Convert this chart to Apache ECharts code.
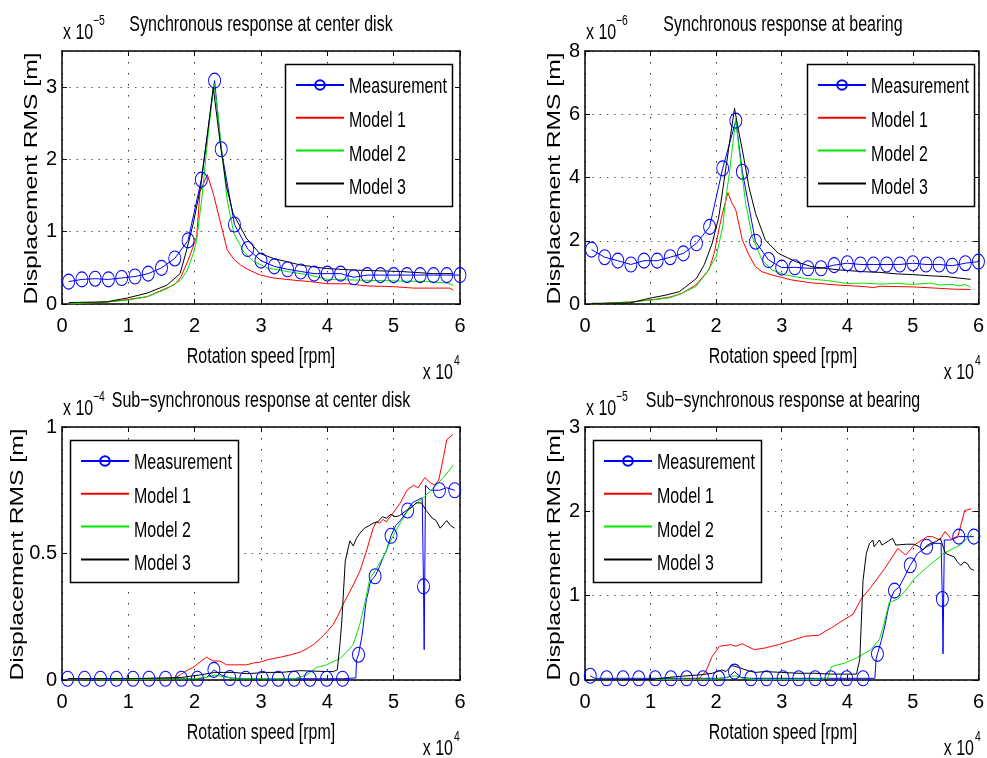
<!DOCTYPE html>
<html><head><meta charset="utf-8">
<script src="https://cdn.jsdelivr.net/npm/echarts@6/dist/echarts.min.js"></script>
<style>html,body{margin:0;padding:0;background:#fff}#c{width:987px;height:758px}</style>
</head><body><div id="c"></div>
<script>
// ---------------- DATA ----------------
const seriesNames = ['Measurement', 'Model 1', 'Model 2', 'Model 3'];
const panelTitles = ['Synchronous response at center disk', 'Synchronous response at bearing',
  'Sub\u2212synchronous response at center disk', 'Sub\u2212synchronous response at bearing'];
const yExponents = ['\u22125', '\u22126', '\u22124', '\u22125'];
const xExponent = '4';
const yMaxes = [3.5, 8, 1, 3];
const yIntervals = [1, 2, 0.5, 1];

// Top-left: synchronous response at center disk (x 1e4 rpm, y 1e-5 m)
const syncMeasX = [0.1,0.3,0.5,0.7,0.9,1.1,1.3,1.5,1.7,1.9,2.1,2.3,2.4,2.6,2.8,3.0,3.2,3.4,3.6,3.8,4.0,4.2,4.4,4.6,4.8,5.0,5.2,5.4,5.6,5.8,6.0];
const syncDiskMeasY = [0.31,0.34,0.35,0.34,0.36,0.38,0.42,0.50,0.63,0.88,1.72,3.09,2.14,1.10,0.76,0.60,0.52,0.48,0.45,0.42,0.42,0.42,0.37,0.40,0.40,0.40,0.40,0.40,0.40,0.40,0.40];
const syncDiskM1 = [[0.1,0],[0.3,0.01],[0.7,0.03],[0.97,0.06],[1.28,0.10],[1.58,0.22],[1.7,0.27],[1.79,0.37],[1.9,0.60],[2.03,0.93],[2.08,1.55],[2.19,1.79],[2.28,1.53],[2.38,1.16],[2.49,0.75],[2.59,0.62],[2.69,0.54],[2.8,0.48],[2.99,0.40],[3.19,0.36],[3.49,0.33],[3.74,0.31],[4.0,0.28],[4.3,0.28],[4.6,0.25],[5.0,0.24],[5.3,0.22],[5.6,0.22],[5.85,0.22],[5.9,0.19]];
const syncDiskM2 = [[0.1,0],[0.3,0.01],[0.7,0.03],[0.97,0.05],[1.28,0.10],[1.58,0.21],[1.79,0.33],[1.89,0.47],[1.98,0.70],[2.03,0.88],[2.11,1.48],[2.18,2.13],[2.26,2.82],[2.29,3.05],[2.34,2.73],[2.39,2.27],[2.49,1.44],[2.59,0.98],[2.74,0.72],[2.89,0.59],[3.09,0.50],[3.39,0.45],[3.74,0.40],[4.0,0.34],[4.5,0.33],[5.0,0.32],[5.5,0.31],[5.8,0.29],[5.9,0.26]];
const syncDiskM3 = [[0.1,0.02],[0.67,0.03],[0.97,0.08],[1.28,0.15],[1.58,0.26],[1.78,0.42],[1.88,0.75],[1.98,1.12],[2.09,1.62],[2.2,2.40],[2.28,3.0],[2.38,2.26],[2.48,1.62],[2.58,1.25],[2.78,0.91],[2.98,0.70],[3.19,0.63],[3.59,0.54],[3.99,0.49],[4.39,0.47],[5.1,0.45],[5.6,0.42],[5.9,0.42]];

// Top-right: synchronous response at bearing (y 1e-6 m)
const syncBrgMeasY = [1.72,1.48,1.37,1.25,1.37,1.37,1.48,1.60,1.92,2.44,4.29,5.80,4.18,1.97,1.39,1.15,1.16,1.13,1.13,1.23,1.29,1.25,1.25,1.25,1.25,1.29,1.25,1.25,1.21,1.29,1.34];
const syncBrgM1 = [[0.1,0],[0.3,0.02],[0.73,0.07],[1.08,0.15],[1.3,0.22],[1.48,0.34],[1.69,0.60],[1.89,1.08],[1.97,1.60],[2.05,2.44],[2.10,2.90],[2.15,3.29],[2.18,3.52],[2.24,3.20],[2.30,2.97],[2.40,2.02],[2.50,1.55],[2.60,1.18],[2.70,1.02],[2.85,0.92],[3.15,0.76],[3.45,0.67],[3.85,0.60],[4.26,0.55],[4.4,0.52],[4.5,0.56],[4.77,0.55],[5.0,0.54],[5.37,0.50],[5.6,0.47],[5.88,0.46]];
const syncBrgM2 = [[0.1,0],[0.3,0.02],[0.73,0.07],[1.08,0.14],[1.3,0.2],[1.48,0.34],[1.69,0.55],[1.85,0.97],[2.0,1.50],[2.10,2.44],[2.15,3.39],[2.20,4.10],[2.25,5.0],[2.30,5.87],[2.35,4.87],[2.45,3.18],[2.55,2.13],[2.70,1.39],[2.85,1.08],[3.05,0.92],[3.35,0.81],[3.7,0.74],[3.9,0.68],[4.0,0.65],[4.25,0.66],[4.5,0.63],[4.77,0.65],[5.0,0.62],[5.27,0.66],[5.4,0.60],[5.6,0.62],[5.7,0.57],[5.8,0.62],[5.88,0.53]];
const syncBrgM3 = [[0.1,0.02],[0.68,0.03],[0.98,0.18],[1.23,0.28],[1.44,0.39],[1.70,0.81],[1.82,1.25],[1.94,1.92],[2.04,2.75],[2.10,3.6],[2.19,4.9],[2.28,6.19],[2.34,5.5],[2.40,4.87],[2.50,3.7],[2.60,2.87],[2.75,2.02],[2.95,1.60],[3.21,1.34],[3.46,1.18],[3.86,1.08],[4.26,1.02],[4.5,1.0],[4.77,0.95],[5.0,0.93],[5.27,0.89],[5.5,0.87],[5.7,0.82],[5.88,0.78]];

// Bottom-left: sub-synchronous response at center disk (y 1e-4 m)
const subDiskMarkX = [0.085,0.34,0.58,0.82,1.07,1.31,1.56,1.80,2.04,2.29,2.53,2.77,3.02,3.26,3.50,3.74,3.99,4.23,4.47,4.72,4.96,5.21,5.45,5.69,5.92];
const subDiskMeas = [[0.085,0.005],[0.34,0.005],[0.58,0.005],[0.82,0.005],[1.07,0.005],[1.31,0.005],[1.56,0.005],[1.80,0.005],[2.04,0.005],[2.18,0.01],[2.29,0.04],[2.40,0.02],[2.53,0.008],[2.77,0.005],[3.02,0.005],[3.26,0.005],[3.50,0.005],[3.74,0.005],[3.99,0.005],[4.23,0.005],[4.43,0.008],[4.44,0.08],[4.47,0.10],[4.49,0.13],[4.52,0.17],[4.54,0.21],[4.57,0.28],[4.59,0.32],[4.62,0.35],[4.64,0.38],[4.68,0.40],[4.72,0.41],[4.79,0.45],[4.85,0.49],[4.89,0.51],[4.96,0.57],[5.03,0.61],[5.10,0.63],[5.21,0.67],[5.28,0.70],[5.35,0.71],[5.43,0.72],[5.45,0.37],[5.46,0.12],[5.48,0.77],[5.55,0.75],[5.62,0.75],[5.69,0.75],[5.80,0.76],[5.92,0.75]];
const subDiskM1 = [[0.1,0],[0.5,0.002],[1.0,0.003],[1.5,0.005],[1.7,0.008],[1.78,0.02],[1.9,0.04],[1.98,0.05],[2.1,0.075],[2.18,0.09],[2.28,0.075],[2.38,0.075],[2.48,0.06],[2.6,0.06],[2.78,0.06],[2.9,0.068],[2.98,0.07],[3.1,0.08],[3.29,0.09],[3.45,0.10],[3.59,0.11],[3.7,0.125],[3.79,0.14],[3.9,0.165],[3.99,0.19],[4.09,0.22],[4.17,0.26],[4.24,0.30],[4.32,0.34],[4.39,0.375],[4.49,0.43],[4.59,0.51],[4.69,0.60],[4.74,0.625],[4.79,0.62],[4.84,0.635],[4.89,0.625],[4.99,0.66],[5.10,0.70],[5.20,0.75],[5.30,0.77],[5.37,0.76],[5.47,0.80],[5.55,0.78],[5.62,0.77],[5.68,0.79],[5.75,0.88],[5.80,0.95],[5.89,0.97]];
const subDiskM2 = [[0.1,0],[1.0,0.002],[2.0,0.005],[2.2,0.012],[2.3,0.02],[2.45,0.012],[2.6,0.005],[3.0,0.005],[3.5,0.005],[3.69,0.02],[3.84,0.05],[3.99,0.06],[4.19,0.085],[4.29,0.11],[4.39,0.14],[4.49,0.22],[4.57,0.31],[4.64,0.40],[4.74,0.44],[4.85,0.49],[4.99,0.57],[5.12,0.63],[5.24,0.68],[5.35,0.70],[5.45,0.72],[5.60,0.76],[5.75,0.80],[5.90,0.85]];
const subDiskM3 = [[0.1,0.005],[1.0,0.005],[1.8,0.01],[2.08,0.02],[2.3,0.03],[2.58,0.03],[2.8,0.025],[3.08,0.03],[3.3,0.03],[3.59,0.037],[3.8,0.035],[4.09,0.033],[4.15,0.04],[4.19,0.14],[4.22,0.24],[4.27,0.47],[4.34,0.55],[4.39,0.53],[4.44,0.56],[4.49,0.58],[4.56,0.60],[4.63,0.61],[4.69,0.62],[4.76,0.625],[4.83,0.645],[4.89,0.64],[4.96,0.655],[5.02,0.645],[5.09,0.65],[5.19,0.67],[5.26,0.68],[5.34,0.70],[5.42,0.70],[5.49,0.67],[5.58,0.64],[5.64,0.63],[5.70,0.60],[5.80,0.63],[5.86,0.61],[5.92,0.60]];

// Bottom-right: sub-synchronous response at bearing (y 1e-5 m)
const subBrgMarkX = [0.08,0.33,0.58,0.82,1.07,1.31,1.55,1.80,2.04,2.28,2.53,2.77,3.02,3.26,3.51,3.75,3.99,4.24,4.46,4.72,4.96,5.21,5.45,5.70,5.93];
const subBrgMeas = [[0.08,0.05],[0.15,0.02],[0.33,0.02],[0.58,0.02],[0.82,0.02],[1.07,0.02],[1.31,0.02],[1.55,0.02],[1.80,0.02],[2.04,0.02],[2.18,0.03],[2.28,0.10],[2.38,0.03],[2.53,0.02],[2.77,0.02],[3.02,0.02],[3.26,0.02],[3.51,0.02],[3.75,0.02],[3.99,0.02],[4.24,0.02],[4.42,0.02],[4.44,0.25],[4.46,0.31],[4.52,0.47],[4.57,0.63],[4.62,0.83],[4.67,0.98],[4.72,1.06],[4.79,1.10],[4.87,1.22],[4.96,1.36],[5.07,1.50],[5.21,1.58],[5.32,1.62],[5.43,1.62],[5.45,0.96],[5.46,0.31],[5.48,1.66],[5.57,1.66],[5.70,1.70],[5.93,1.70]];
const subBrgM1 = [[0.1,0],[1.0,0.005],[1.5,0.01],[1.74,0.02],[1.84,0.10],[1.94,0.28],[2.05,0.40],[2.15,0.41],[2.22,0.42],[2.30,0.40],[2.40,0.43],[2.50,0.39],[2.58,0.36],[2.75,0.38],[2.95,0.42],[3.16,0.47],[3.36,0.52],[3.56,0.53],[3.76,0.62],[3.96,0.72],[4.09,0.78],[4.21,0.96],[4.36,1.10],[4.57,1.32],[4.77,1.56],[4.89,1.48],[5.02,1.60],[5.22,1.70],[5.30,1.70],[5.41,1.66],[5.49,1.76],[5.59,1.67],[5.69,1.71],[5.79,2.01],[5.89,2.03]];
const subBrgM2 = [[0.1,0],[1.0,0.005],[2.0,0.01],[2.2,0.04],[2.3,0.05],[2.4,0.02],[2.6,0.005],[3.0,0.005],[3.5,0.005],[3.70,0.02],[3.76,0.16],[3.96,0.20],[4.16,0.27],[4.36,0.36],[4.49,0.48],[4.56,0.67],[4.64,0.92],[4.77,0.96],[4.89,1.06],[5.02,1.20],[5.22,1.34],[5.47,1.50],[5.72,1.60],[5.90,1.73]];
const subBrgM3 = [[0.1,0],[1.0,0.005],[1.38,0.04],[1.74,0.06],[1.94,0.08],[2.09,0.12],[2.15,0.10],[2.24,0.17],[2.34,0.15],[2.49,0.11],[2.6,0.09],[2.75,0.10],[3.0,0.09],[3.25,0.08],[3.5,0.08],[3.76,0.07],[4.14,0.07],[4.19,0.24],[4.24,1.18],[4.29,1.50],[4.34,1.62],[4.39,1.66],[4.41,1.58],[4.45,1.62],[4.49,1.66],[4.53,1.60],[4.57,1.62],[4.63,1.65],[4.69,1.68],[4.74,1.60],[4.77,1.62],[4.9,1.61],[5.02,1.61],[5.10,1.58],[5.15,1.54],[5.22,1.60],[5.27,1.62],[5.35,1.64],[5.42,1.68],[5.47,1.56],[5.50,1.50],[5.56,1.48],[5.63,1.46],[5.68,1.40],[5.73,1.36],[5.78,1.40],[5.83,1.38],[5.88,1.32],[5.93,1.30]];

// ---------------- LAYOUT / STYLE ----------------
const panelData = [
  { meas: syncMeasX.map((x, i) => [x, syncDiskMeasY[i]]), mark: syncMeasX, models: [syncDiskM1, syncDiskM2, syncDiskM3] },
  { meas: syncMeasX.map((x, i) => [x, syncBrgMeasY[i]]), mark: syncMeasX, models: [syncBrgM1, syncBrgM2, syncBrgM3] },
  { meas: subDiskMeas, mark: subDiskMarkX, models: [subDiskM1, subDiskM2, subDiskM3] },
  { meas: subBrgMeas, mark: subBrgMarkX, models: [subBrgM1, subBrgM2, subBrgM3] }
];
const rects = [
  { L: 62, T: 51, W: 398, H: 253, box: [285, 64, 167, 142], yLabX: 32 },
  { L: 585, T: 51, W: 396, H: 253, box: [807, 64, 167, 142], yLabX: 555 },
  { L: 62, T: 427, W: 398, H: 253, box: [70, 440, 168, 142], yLabX: 18 },
  { L: 585, T: 427, W: 396, H: 253, box: [593, 440, 168, 142], yLabX: 555 }
];
const modelColors = ['#ff0000', '#00e600', '#000000'];
const FW = "'Liberation Sans', Arial, Helvetica, sans-serif";

const grid = [], xAxis = [], yAxis = [], series = [], legend = [], graphic = [];
const dottedV = { color: '#333', width: 1, type: [1.5, 9.5] };
const dottedH = { color: '#555', width: 1, type: [1.5, 5.8] };

function stext(x, y, str, size, align, valign, sx, sy) {
  graphic.push({
    type: 'text', x: x, y: y, scaleX: sx, scaleY: sy, silent: true, z: 100,
    style: { text: str, fontSize: size, fontFamily: FW, fill: '#000',
      align: align, verticalAlign: valign, textAlign: align, textVerticalAlign: valign }
  });
}

rects.forEach((r, i) => {
  grid.push({ left: r.L, top: r.T, width: r.W, height: r.H, containLabel: false });
  const common = { gridIndex: i, type: 'value', min: 0, max: 6, interval: 1 };
  const frameLine = { show: true, onZero: false, lineStyle: { color: '#000', width: 1.5 } };
  const inTick = { show: true, inside: true, length: 5, lineStyle: { color: '#000' } };
  xAxis.push(Object.assign({}, common, {
    position: 'bottom', axisLine: frameLine, axisTick: inTick,
    axisLabel: { fontFamily: FW, fontSize: 20, color: '#000', margin: 12 },
    splitLine: { show: true, lineStyle: dottedV }
  }));
  xAxis.push(Object.assign({}, common, {
    position: 'top', axisLine: frameLine, axisTick: inTick,
    axisLabel: { show: false }, splitLine: { show: false }
  }));
  const yc = { gridIndex: i, type: 'value', min: 0, max: yMaxes[i], interval: yIntervals[i] };
  yAxis.push(Object.assign({}, yc, {
    position: 'left', axisLine: frameLine, axisTick: inTick,
    axisLabel: { fontFamily: FW, fontSize: 20, color: '#000', margin: 5, showMaxLabel: i !== 0 },
    splitLine: { show: true, lineStyle: dottedH }
  }));
  yAxis.push(Object.assign({}, yc, {
    position: 'right', axisLine: frameLine, axisTick: inTick,
    axisLabel: { show: false }, splitLine: { show: false }
  }));

  const pd = panelData[i];
  series.push({
    name: seriesNames[0], type: 'line', xAxisIndex: 2 * i, yAxisIndex: 2 * i,
    symbol: 'circle', symbolSize: [12, 15], silent: true, z: 2,
    data: pd.meas.map(p => pd.mark.indexOf(p[0]) >= 0 ? { value: p } : { value: p, symbol: 'none' }),
    lineStyle: { color: '#0000ff', width: 1 },
    itemStyle: { color: 'rgba(0,0,0,0)', borderColor: '#0000ff', borderWidth: 1 },
    emphasis: { disabled: true }
  });
  pd.models.forEach((m, k) => {
    series.push({
      name: seriesNames[k + 1], type: 'line', xAxisIndex: 2 * i, yAxisIndex: 2 * i,
      symbol: 'none', silent: true, z: 2, data: m,
      lineStyle: { color: modelColors[k], width: 1 },
      itemStyle: { color: 'rgba(0,0,0,0)', borderWidth: 0 },
      emphasis: { disabled: true }
    });
  });

  // legend frame (white box above the curves, below the legend icons)
  const b = r.box;
  graphic.push({
    type: 'rect', silent: true, z: 3,
    shape: { x: b[0] + 0.5, y: b[1] + 0.5, width: b[2], height: b[3] },
    style: { fill: '#fff', stroke: '#000', lineWidth: 1.5 }
  });
  legend.push({
    data: seriesNames, orient: 'vertical', left: b[0] + 10, top: b[1] + 13,
    itemWidth: 48, itemHeight: 12, itemGap: 16.8, padding: 0,
    backgroundColor: 'rgba(0,0,0,0)', borderWidth: 0, selectedMode: false,
    formatter: function () { return ' '; },
    textStyle: { fontFamily: FW, fontSize: 10, lineHeight: 16, color: '#000' }
  });
  seriesNames.forEach((nm, k) => {
    stext(b[0] + 64, b[1] + 23 + 33.7 * k, nm, 20, 'left', 'middle', 0.8, 1.12);
  });

  // titles, exponents, axis names
  stext(r.L + r.W / 2, r.T - 26, panelTitles[i], 20, 'center', 'middle', 0.8, 1.1);
  stext(r.L + 1, r.T - 18, 'x 10', 20, 'left', 'middle', 0.8, 1.1);
  stext(r.L + 31, r.T - 30, yExponents[i], 13, 'left', 'middle', 0.8, 1.1);
  stext(r.L + r.W / 2, r.T + r.H + 53, 'Rotation speed [rpm]', 20, 'center', 'middle', 0.8, 1.1);
  stext(r.L + r.W - 7, r.T + r.H + 69, 'x 10', 20, 'right', 'middle', 0.8, 1.1);
  stext(r.L + r.W - 6, r.T + r.H + 57, xExponent, 13, 'left', 'middle', 0.8, 1.1);
  graphic.push({
    type: 'text', x: r.yLabX, y: r.T + r.H / 2 + 1, rotation: Math.PI / 2, scaleX: 1.37,
    silent: true, z: 100,
    style: { text: 'Displacement RMS [m]', fontSize: 18, fontFamily: FW, fill: '#000',
      align: 'center', verticalAlign: 'middle', textAlign: 'center', textVerticalAlign: 'middle' }
  });
});

const chart = echarts.init(document.getElementById('c'), null, { renderer: 'canvas' });
chart.setOption({
  animation: false, backgroundColor: '#fff',
  grid: grid, xAxis: xAxis, yAxis: yAxis, series: series, legend: legend, graphic: graphic
});
</script></body></html>
